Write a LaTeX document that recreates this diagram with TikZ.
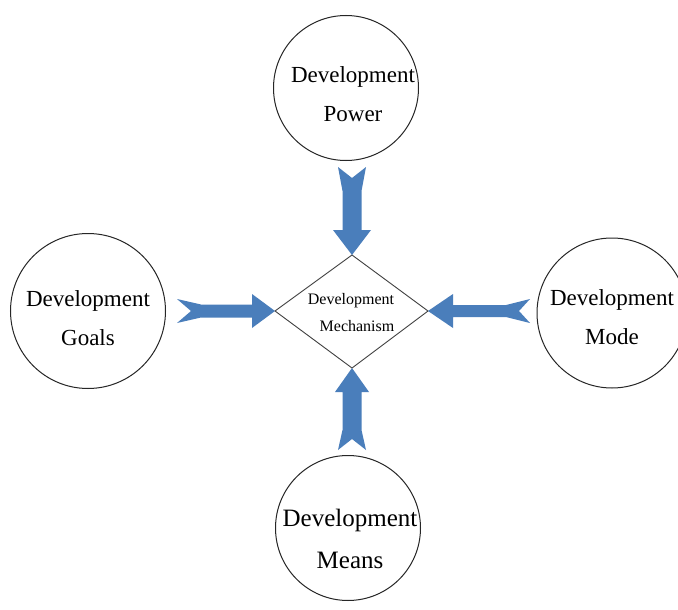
\documentclass[tikz,border=0pt]{standalone}
\usepackage{fontspec}
\setmainfont{Liberation Serif}
\definecolor{arrowblue}{RGB}{74,126,187}
\newcommand{\fletcharrow}[9]{%
  % #1 tip coordinate, #2 angle, #3 length, #4 shaft half, #5 head half, #6 head length, #7 tail half, #8 notch, #9 fletch
  \begin{scope}[shift={(#1)}, rotate=#2]
    \fill[arrowblue] (-#3,#7) -- (-#3+#9,#4) -- (-#6,#4) -- (-#6,#5) -- (0,0)
      -- (-#6,-#5) -- (-#6,-#4) -- (-#3+#9,-#4) -- (-#3,-#7) -- (-#3+#8,0) -- cycle;
  \end{scope}}
\begin{document}
\begin{tikzpicture}[x=1pt,y=-1pt,
  circ/.style={draw=black!85, line width=1pt, circle, fill=white},
  ctext/.style={align=center, font=\fontsize{23}{39}\selectfont},
  mtext/.style={align=center, font=\fontsize{16}{27}\selectfont}]
\clip (0,0) rectangle (678,610);
\fill[white] (0,0) rectangle (678,610);
% circles
\draw[circ] (346,88) circle[radius=72.5];
\draw[circ] (88,311) circle[radius=77.5];
\draw[circ] (612,313) circle[radius=75];
\draw[circ] (348,528) circle[radius=72.5];
\node[ctext] (power) at (353,94) {Development\\Power};
\node[ctext] (goals) at (88,318) {Development\\Goals};
\node[ctext] (mode) at (612,317) {Development\\Mode};
\node[ctext, font=\fontsize{25}{42}\selectfont] (means) at (350,539) {Development\\Means};
% diamond
\coordinate (dN) at (352,255);
\coordinate (dS) at (352,368);
\coordinate (dW) at (275,311);
\coordinate (dE) at (428,311);
\draw[black!75, line width=0.9pt] (dN) -- (dE) -- (dS) -- (dW) -- cycle;
\node[mtext] (mech) at (351,313) {Development\\\hspace*{12pt}Mechanism};
% arrows
\fletcharrow{dN}{-90}{88}{9.5}{19}{25}{14}{11}{24}
\fletcharrow{dS}{90}{82}{9.5}{17}{24}{14}{11}{20}
\fletcharrow{dW}{0}{98}{6.5}{17}{23}{12}{14}{24}
\fletcharrow{dE}{180}{102}{6}{17}{25}{12}{11}{24}
\end{tikzpicture}
\end{document}
